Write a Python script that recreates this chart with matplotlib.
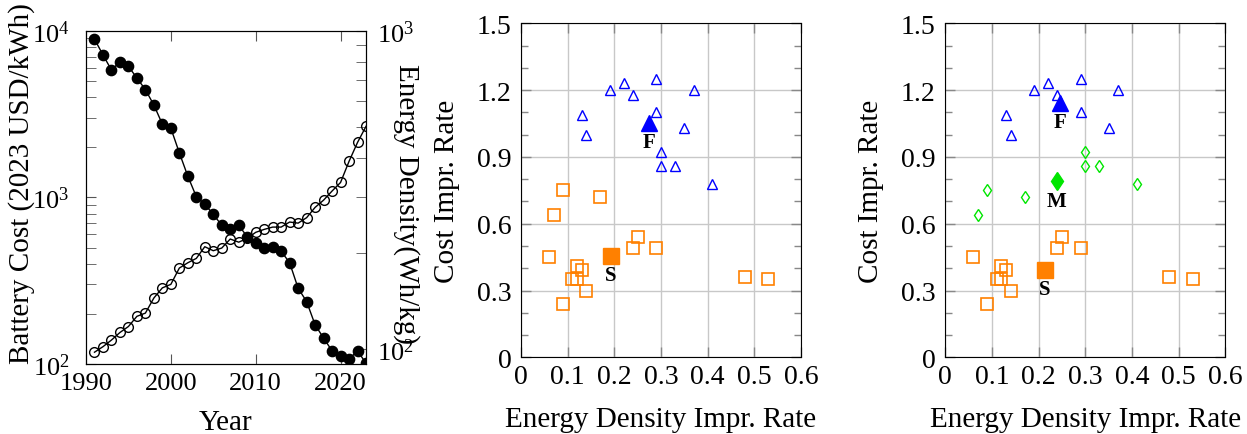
"""Battery cost / energy density trends and improvement-rate scatter panels."""

import matplotlib

matplotlib.use("Agg")
import matplotlib.pyplot as plt  # noqa: E402
import numpy as np  # noqa: E402
from matplotlib.ticker import FixedLocator, FuncFormatter, LogLocator, NullFormatter  # noqa: E402

# --- left panel: yearly series ---
years = list(range(1991, 2024))
battery_cost = [8900, 7160, 5810, 6500, 6110, 5200, 4430, 3580, 2750, 2600,
                1850, 1340, 1010, 910, 790, 680, 650, 680, 580, 530,
                500, 505, 475, 405, 285, 237, 172, 143, 120, 112,
                107, 120, 101]
energy_density = [98, 102, 107, 113, 118, 127, 130, 145, 156, 160,
                  180, 187, 193, 210, 204, 208, 222, 217, 223, 233,
                  238, 242, 242, 251, 249, 259, 279, 294, 314, 334,
                  389, 446, 501]

# --- scatter panels: improvement rates of each technology ---
energy_rate = [0.19, 0.22, 0.24, 0.29, 0.37, 0.13, 0.14, 0.29, 0.35,
               0.30, 0.30, 0.33, 0.41,
               0.09, 0.17, 0.07,
               0.06, 0.12, 0.13, 0.11, 0.12, 0.14, 0.09, 0.25, 0.24, 0.29, 0.48, 0.53]
cost_rate = [1.20, 1.23, 1.18, 1.25, 1.20, 1.09, 1.00, 1.10, 1.03,
             0.92, 0.86, 0.86, 0.78,
             0.75, 0.72, 0.64,
             0.45, 0.41, 0.39, 0.35, 0.35, 0.30, 0.24, 0.54, 0.49, 0.49, 0.36, 0.35]
groups_two = ["F"] * 13 + ["S"] * 15
groups_three = ["F"] * 9 + ["M"] * 7 + ["S"] * 12

STYLE = {
    "F": dict(marker="^", color="#0000ff", ms=7.2, ms_c=11, mew=1.0),
    "M": dict(marker="d", color="#00e600", ms=6.0, ms_c=9.5, mew=1.0),
    "S": dict(marker="s", color="#ff8000", ms=8.0, ms_c=12, mew=1.2),
}

TICK_FS = 20
LABEL_FS = 21

plt.rcParams["font.family"] = ["Liberation Serif", "DejaVu Serif"]
plt.rcParams["mathtext.fontset"] = "stix"
plt.rcParams["font.size"] = TICK_FS

fig = plt.figure(figsize=(12.47, 4.35), dpi=100)
W, H = 1247, 435


def rect(x0, x1, top, bottom):
    """ピクセル指定 (左, 右, 上, 下) を figure 座標の rect に変換."""
    return [x0 / W, 1 - bottom / H, (x1 - x0) / W, (bottom - top) / H]


def center_label(label):
    label.set_rotation_mode("anchor")
    label.set_ha("center")
    label.set_va("center")


# ---------------- left panel ----------------
ax = fig.add_axes(rect(86, 366, 31.7, 365))
ax2 = ax.twinx()
ax.set_zorder(ax2.get_zorder() + 1)
ax.patch.set_visible(False)

ax2.plot(years, energy_density, "-o", color="black", lw=1.0, ms=7.0,
         mfc="none", mec="black", mew=1.0)
ax.plot(years, battery_cost, "-o", color="black", lw=1.0, ms=7.4,
        mfc="black", mec="black")

ax.set_yscale("log")
ax2.set_yscale("log")
ax.set_xlim(1990, 2023)
ax.set_ylim(100, 10000)
ax2.set_ylim(90, 1000)
ax.set_xticks([1990, 2000, 2010, 2020])
ax.yaxis.set_major_locator(FixedLocator([1e2, 1e3, 1e4]))
ax.yaxis.set_minor_locator(LogLocator(base=10, subs=np.arange(2, 10)))
ax.yaxis.set_minor_formatter(NullFormatter())
ax2.yaxis.set_major_locator(FixedLocator([1e2, 1e3]))
ax2.yaxis.set_minor_locator(LogLocator(base=10, subs=np.arange(2, 10)))
ax2.yaxis.set_minor_formatter(NullFormatter())

ax.tick_params(axis="x", which="both", direction="in", top=True, length=7,
               color="#555555", pad=6, labelsize=19)
ax.tick_params(axis="y", which="both", direction="in", right=False, length=7,
               color="#555555", pad=12, labelsize=19)
ax2.tick_params(axis="y", which="both", direction="in", length=7,
                color="#555555", pad=8, labelsize=19)

ax.set_xlabel("Year", fontsize=LABEL_FS)
ax.xaxis.set_label_coords(0.497, -0.174)
ax.xaxis.label.set_va("center")

ax.set_ylabel("Battery Cost (2023 USD/kWh)", fontsize=LABEL_FS)
center_label(ax.yaxis.label)
ax.yaxis.set_label_coords(-0.229, 0.545)

ax2.set_ylabel("Energy Density(Wh/kg)", fontsize=LABEL_FS, rotation=-90)
center_label(ax2.yaxis.label)
ax2.yaxis.set_label_coords(1.146, 0.483)


# ---------------- scatter panels ----------------
def rate_fmt(v, _pos):
    return "0" if abs(v) < 1e-9 else f"{v:.1f}"


def scatter_panel(axs, groups):
    e = np.array(energy_rate)
    c = np.array(cost_rate)
    g = np.array(groups)
    for key in ["S", "M", "F"]:
        sel = g == key
        if not sel.any():
            continue
        st = STYLE[key]
        axs.plot(e[sel], c[sel], linestyle="none", marker=st["marker"],
                 ms=st["ms"], mfc="none", mec=st["color"], mew=st["mew"],
                 zorder=3)
    # 各グループの重心を塗りつぶしマーカーで
    for key in ["S", "M", "F"]:
        sel = g == key
        if not sel.any():
            continue
        st = STYLE[key]
        cx, cy = e[sel].mean(), c[sel].mean()
        axs.plot([cx], [cy], linestyle="none", marker=st["marker"],
                 ms=st["ms_c"], mfc=st["color"], mec=st["color"], zorder=4)
        axs.annotate(key, (cx, cy), xytext=(0, -14), textcoords="offset points",
                     ha="center", va="center", fontsize=15, fontweight="bold",
                     zorder=5)
    axs.set_xlim(0, 0.6)
    axs.set_ylim(0, 1.5)
    axs.set_xticks(np.arange(0, 0.61, 0.1))
    axs.set_yticks(np.arange(0, 1.51, 0.3))
    axs.set_yticks(np.arange(0, 1.51, 0.1), minor=True)
    axs.xaxis.set_major_formatter(FuncFormatter(rate_fmt))
    axs.yaxis.set_major_formatter(FuncFormatter(rate_fmt))
    axs.grid(True, which="major", color="#c8c8c8", lw=1.0, zorder=0)
    axs.set_axisbelow(True)
    axs.tick_params(which="both", direction="in", top=True, right=True,
                    color="#888888", width=1.0, labelsize=TICK_FS)
    axs.tick_params(axis="x", which="major", length=7, pad=5)
    axs.tick_params(axis="y", which="major", length=7, pad=7)
    axs.tick_params(which="minor", length=5)

    axs.set_xlabel("Energy Density Impr. Rate", fontsize=LABEL_FS)
    axs.xaxis.set_label_coords(0.5, -0.185)
    axs.xaxis.label.set_va("center")

    axs.set_ylabel("Cost Impr. Rate", fontsize=LABEL_FS)
    center_label(axs.yaxis.label)
    axs.yaxis.set_label_coords(-0.264, 0.5)


ax_mid = fig.add_axes(rect(521, 801, 24.3, 358.3))
scatter_panel(ax_mid, groups_two)

ax_right = fig.add_axes(rect(945.3, 1225.3, 24.3, 358.3))
scatter_panel(ax_right, groups_three)

fig.savefig("out.png", dpi=100)
